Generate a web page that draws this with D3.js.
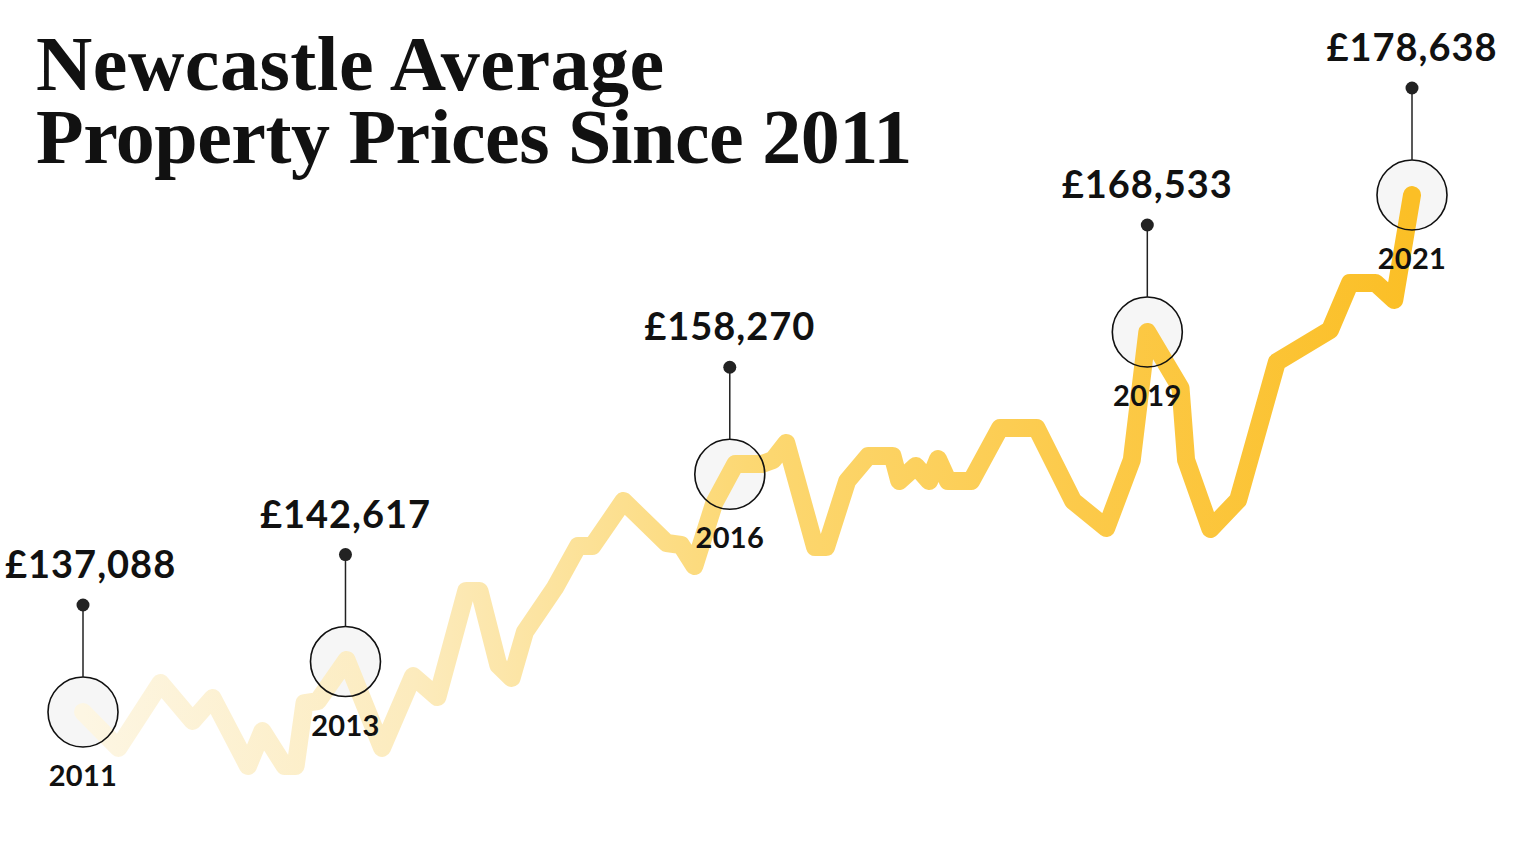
<!DOCTYPE html>
<html><head><meta charset="utf-8">
<script src="https://cdn.jsdelivr.net/npm/d3@7"></script>
<style>html,body{margin:0;padding:0;background:#fff;} svg{display:block;}</style>
</head><body><svg id="chart" width="1534" height="860"></svg>
<script>
const titleLines = ["Newcastle Average", "Property Prices Since 2011"];
// months since January 2011
const months = [0, 3.2, 7.0, 9.9, 11.7, 14.9, 16.2, 18.2, 19.2, 20.0, 21.2, 23.8, 27.0, 29.8, 32.0, 34.6, 35.8, 37.5, 38.7, 39.9,
  42.6, 44.7, 46.0, 48.8, 52.7, 54.0, 55.2, 57.0, 58.9, 61.3, 62.3, 63.5, 66.1, 67.1, 69.0, 70.9, 73.1, 73.7, 75.2, 76.4,
  77.2, 78.1, 80.2, 82.8, 86.1, 89.4, 92.4, 94.7, 96.1, 99.1, 99.6, 101.8, 104.3, 107.8, 112.6, 114.4, 116.7, 118.4, 120.0];
// average price (£)
const prices = [137088, 134200, 139420, 136370, 138210, 132750, 135560, 132750, 132750, 137810, 137970, 141270, 134200, 139980, 138290, 146810, 146810, 140870, 139820, 143520,
  147050, 150430, 150430, 154050, 150670, 150510, 148820, 153890, 157020, 157020, 157340, 158710, 150350, 150350, 155650, 157660, 157660, 155650, 156860, 155650,
  157420, 155650, 155650, 159910, 159910, 154050, 151880, 157340, 167630, 163130, 157340, 151800, 154130, 165220, 167790, 171570, 171570, 170200, 178638];
const markYears = ["2011", "2013", "2016", "2019", "2021"];
const markMonths = [0, 23.7, 58.4, 96.1, 120];
const markLabels = ["£137,088", "£142,617", "£158,270", "£168,533", "£178,638"];

const svg = d3.select("#chart");
const x = d3.scaleLinear().domain([0, 120]).range([83, 1412]);
const y = d3.scaleLinear().domain(d3.extent(prices)).range([766, 195]);

const data = months.map((m, i) => ({m, p: prices[i]}));

// gradient
const defs = svg.append("defs");
const grad = defs.append("linearGradient").attr("id", "lineGrad")
  .attr("gradientUnits", "userSpaceOnUse")
  .attr("x1", x(0)).attr("x2", x(120)).attr("y1", 0).attr("y2", 0);
[[0, "#fdf6e3"], [0.25, "#fcebbd"], [0.5, "#fcd873"], [0.75, "#fcca4a"], [1, "#fbbf26"]]
  .forEach(([o, c]) => grad.append("stop").attr("offset", o).attr("stop-color", c));

// title
titleLines.forEach((t, i) => svg.append("text")
  .attr("x", 36).attr("y", 90 + i * 73)
  .attr("font-family", "'Liberation Serif', 'DejaVu Serif', serif")
  .attr("font-weight", 700).attr("font-size", 78).attr("fill", "#111")
  .attr("letter-spacing", i === 0 ? 0.5 : -0.5)
  .text(t));

// mark positions interpolated along the line
function valueAt(m) {
  for (let i = 0; i < months.length - 1; i++) {
    if (m >= months[i] && m <= months[i + 1]) {
      const t = (m - months[i]) / (months[i + 1] - months[i] || 1);
      return prices[i] + t * (prices[i + 1] - prices[i]);
    }
  }
  return prices[prices.length - 1];
}
const marks = markMonths.map((m, i) => ({cx: x(m), cy: y(valueAt(m)), year: markYears[i], label: markLabels[i]}));
const R = 35;

// circle fills under line
svg.append("g").selectAll("circle").data(marks).join("circle")
  .attr("cx", d => d.cx).attr("cy", d => d.cy).attr("r", R).attr("fill", "#f6f6f6");

// line
svg.append("path").datum(data)
  .attr("d", d3.line().x(d => x(d.m)).y(d => y(d.p)))
  .attr("fill", "none").attr("stroke", "url(#lineGrad)")
  .attr("stroke-width", 18).attr("stroke-linejoin", "round").attr("stroke-linecap", "round");

// circle outlines, pins, labels
const g = svg.append("g").selectAll("g").data(marks).join("g");
g.append("circle").attr("cx", d => d.cx).attr("cy", d => d.cy).attr("r", R)
  .attr("fill", "none").attr("stroke", "#111").attr("stroke-width", 1.6);
g.append("line").attr("x1", d => d.cx).attr("x2", d => d.cx)
  .attr("y1", d => d.cy - 107).attr("y2", d => d.cy - R)
  .attr("stroke", "#222").attr("stroke-width", 1.5);
g.append("circle").attr("cx", d => d.cx).attr("cy", d => d.cy - 107).attr("r", 6.5).attr("fill", "#222");
g.append("text").attr("x", d => d.cx).attr("y", d => d.cy + 74)
  .attr("text-anchor", "middle").attr("font-family", "Lato, 'Noto Sans', sans-serif")
  .attr("font-weight", 700).attr("font-size", 29).attr("letter-spacing", 0.3).attr("fill", "#111").text(d => d.year);
g.append("text").attr("class", "val").attr("x", d => d.cx).attr("y", d => d.cy - 134)
  .attr("text-anchor", "middle").attr("font-family", "Lato, 'Noto Sans', sans-serif")
  .attr("font-weight", 700).attr("font-size", 38).attr("letter-spacing", 1).attr("fill", "#111").text(d => d.label)
  .each(function(d) {
    const b = this.getBBox();
    if (b.x < 5) d3.select(this).attr("x", d.cx + (5 - b.x));
  });
</script>
</body></html>
